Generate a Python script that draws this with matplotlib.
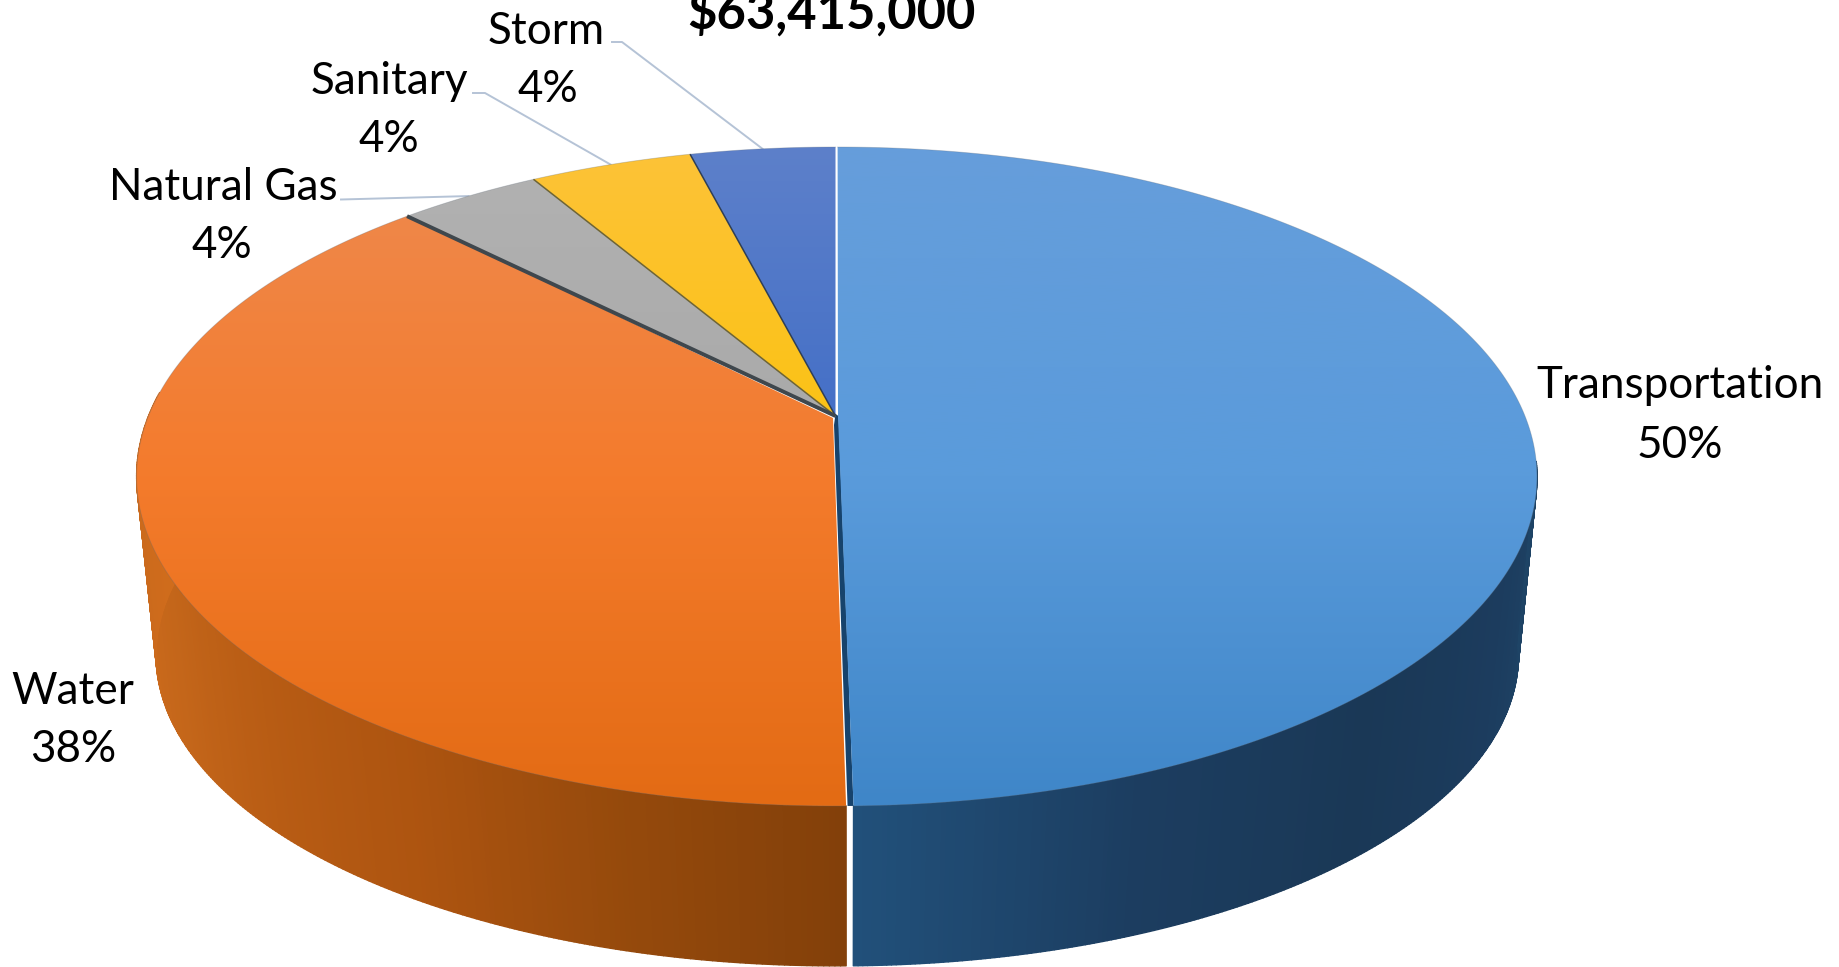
import numpy as np
import matplotlib
matplotlib.use("Agg")
import matplotlib.pyplot as plt
from matplotlib.path import Path
from matplotlib.patches import PathPatch, Polygon
from matplotlib.collections import PolyCollection
from matplotlib.colors import LinearSegmentedColormap

plt.rcParams['font.family'] = ['Lato', 'DejaVu Sans']
plt.rcParams['path.simplify'] = False

categories = ["Transportation", "Water", "Natural Gas", "Sanitary", "Storm"]
shares = [49.8, 37.75, 3.95, 4.49, 4.01]
title_text = "$63,415,000"

top_colors = {
    "Transportation": ("#669edb", "#5a9bdb", "#3f86c8"),
    "Water": ("#ee8a50", "#f47b2c", "#e36b14"),
    "Natural Gas": ("#b2b2b2", "#a8a8a8", "#a0a0a0"),
    "Sanitary": ("#fdc238", "#fbc30e", "#f0bb00"),
    "Storm": ("#5d80ca", "#3f6cc6", "#2c60b8"),
}
label_pos = {
    "Transportation": (1680, 386, 1680, 446),
    "Water": (73, 692, 73, 750),
    "Natural Gas": (223, 187, 222, 245),
    "Sanitary": (389, 81, 389, 139),
    "Storm": (546, 31, 548, 89),
}
leader_start = {"Natural Gas": (341, 199.5, 341), "Sanitary": (473, 93, 485), "Storm": (612, 42, 622)}

# Perspective model of the pie's two discs (pixels)
TOP = dict(cx=835.5, cy=416.0, a=687.0, b=318.4, k=0.1836)
BASE = dict(cx=836.0, cy=602.0, a=670.0, b=302.0, k=0.17)


def project(deg, disc, e=0.0):
    t = np.radians(deg)
    den = 1 + disc['k'] * np.sin(t)
    return (disc['cx'] + disc['a'] * (np.cos(t) + e) / den,
            disc['cy'] - disc['b'] * np.sin(t) / den)


def pts(deg, disc, e=0.0):
    return np.column_stack(project(np.asarray(deg, float), disc, e))


fig = plt.figure(figsize=(18.39, 9.67), dpi=100, facecolor="white")
ax = fig.add_axes([0, 0, 1, 1])
ax.set_xlim(0, 1839)
ax.set_ylim(967, 0)
ax.axis("off")

# angular boundaries, clockwise from the top
edges = 90 - np.concatenate([[0], np.cumsum(shares)]) * 3.6
spans = {c: (edges[i], edges[i + 1]) for i, c in enumerate(categories)}
E = 2.5 / TOP['a']
GAP = 0.3


def side(t0, t1, stops, e=0.0):
    ts = np.linspace(t0, t1, 240)
    u = np.linspace(0, 1, len(ts) - 1)
    cm = LinearSegmentedColormap.from_list("s", stops)
    polys, cols = [], []
    for i in range(len(ts) - 1):
        a = pts(ts[i:i + 2], TOP, e)
        b = pts(ts[i:i + 2], BASE, e)[::-1]
        polys.append(np.vstack([a, b]))
        cols.append(cm(u[i]))
    ax.add_collection(PolyCollection(polys, facecolors=cols, edgecolors=cols, linewidths=1.0, zorder=1))


t_front = spans["Transportation"][1]
side(t_front + GAP, -8, ["#21507a", "#1c3d60", "#1a3856", "#1c3c5e", "#1e4466"], E)
side(t_front, t_front - 95, ["#83400a", "#964a0c", "#ad5410", "#b85c14", "#c4661a", "#cb6a1c", "#d06c1c"])


def gradient(poly, cols, y0=147, y1=806):
    cm = LinearSegmentedColormap.from_list("g", cols)
    im = ax.imshow(np.linspace(0, 1, 256)[:, None], cmap=cm, aspect="auto",
                   extent=(0, 1839, y1, y0), zorder=3, interpolation="bilinear")
    patch = PathPatch(Path(np.vstack([poly, poly[:1]])), transform=ax.transData, fc="none", ec="none")
    ax.add_patch(patch)
    im.set_clip_path(patch)


apex = np.array([[TOP['cx'], TOP['cy']]])
front_orange = pts([t_front], TOP)
# dark inner face visible between the pulled-out slice and the rest
blue_front = pts([t_front + GAP], TOP, E)
ax.add_patch(Polygon(np.vstack([[[835.5, 414], [838.5, 416]], blue_front, front_orange + [1.5, 0], [[834, 425]]]),
                     fc="#17436c", ec="none", zorder=2))

for c in categories:
    t0, t1 = spans[c]
    if c == "Transportation":
        rim = pts(np.linspace(t0, t1 + GAP, 300), TOP, E)
        poly = np.vstack([[[TOP['cx'] + E * TOP['a'], TOP['cy']]], rim])
    elif c == "Water":
        rim = pts(np.linspace(t0, t1, 300), TOP)
        poly = np.vstack([apex + [-2.5, 2], rim])
    else:
        rim = pts(np.linspace(t0, t1, 60), TOP)
        poly = np.vstack([apex, rim])
    gradient(poly, top_colors[c])
    ax.plot(rim[:, 0], rim[:, 1], color="#5f6b78", lw=0.6, alpha=0.3, zorder=4)

# dividing edges between the small slices: each drawn at the slice's clockwise end
for name, col, lw in [("Sanitary", "#2f3f55", 1.1), ("Natural Gas", "#6d6436", 1.1), ("Water", "#3f474d", 2.8)]:
    p = pts([spans[name][1]], TOP)[0]
    ax.plot([TOP['cx'], p[0]], [TOP['cy'], p[1]], color=col, lw=lw, zorder=5, solid_capstyle="butt")

# labels
FS = 31.7
for c, v in zip(categories, shares):
    x1, y1, x2, y2 = label_pos[c]
    ax.text(x1, y1, c, ha="center", va="center", fontsize=FS, color="black", zorder=6)
    ax.text(x2, y2, f"{round(v)}%", ha="center", va="center", fontsize=FS, color="black", zorder=6)

for c, (x0, y0, x1) in leader_start.items():
    t0, t1 = spans[c]
    end = pts([(t0 + t1) / 2], TOP)[0]
    ax.plot([x0, x1, end[0]], [y0, y0, end[1]], color="#b5c3d6", lw=1.4, zorder=2)

ax.text(831, 29, title_text, ha="center", va="baseline", fontsize=36.5, fontweight="bold", color="black", zorder=6)

ax.set_xlim(0, 1839)
ax.set_ylim(967, 0)
fig.savefig("out.png", dpi=100, facecolor="white")
